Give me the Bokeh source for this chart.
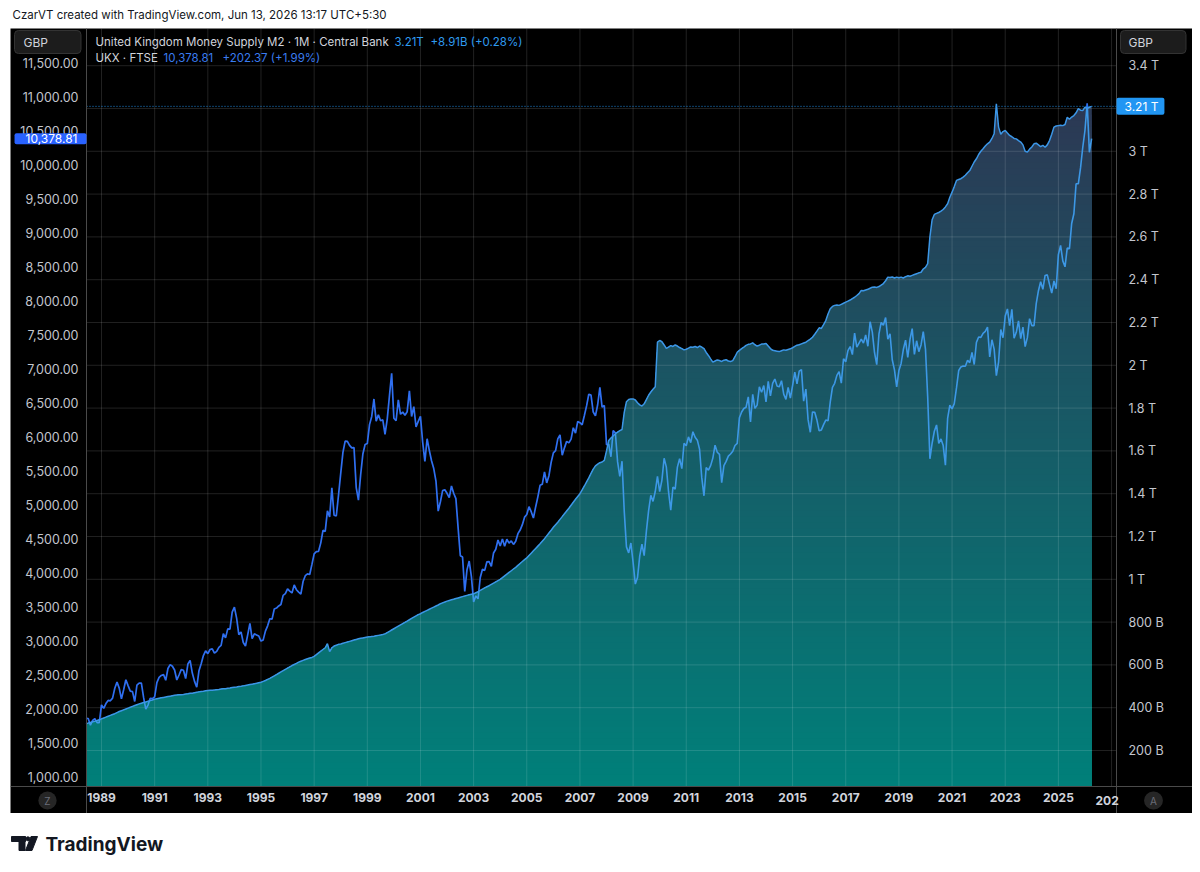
import numpy as np
import pandas as pd
from bokeh.plotting import figure
from bokeh.models import Range1d, LinearAxis, FixedTicker, NumeralTickFormatter, Label
from bokeh.layouts import column
from bokeh.embed import file_html
from bokeh.resources import INLINE
from bokeh.core.properties import value

# ---------------- data (monthly, first month = Jun 1988) ----------------
FIRST_MONTH = "1988-06-01"

ftse_close = [
    1857, 1853, 1753, 1826, 1852, 1793, 1793,                                   # 1988 Jun-Dec
    2052, 2002, 2073, 2119, 2113, 2152, 2298, 2388, 2300, 2142, 2276, 2423,     # 1989
    2337, 2255, 2248, 2103, 2345, 2375, 2372, 2163, 1990, 2050, 2149, 2144,     # 1990
    2170, 2380, 2457, 2486, 2500, 2415, 2588, 2645, 2622, 2566, 2420, 2493,     # 1991
    2571, 2562, 2440, 2654, 2708, 2521, 2399, 2313, 2554, 2658, 2778, 2847,     # 1992
    2807, 2868, 2878, 2814, 2840, 2900, 2927, 3100, 3038, 3171, 3166, 3418,     # 1993
    3491, 3328, 3086, 3126, 2971, 2919, 3082, 3251, 3027, 3098, 3082, 3066,     # 1994
    2991, 3009, 3138, 3216, 3320, 3315, 3464, 3477, 3508, 3529, 3664, 3689,     # 1995
    3760, 3727, 3699, 3818, 3747, 3711, 3681, 3867, 3953, 3980, 3971, 4119,     # 1996
    4275, 4308, 4312, 4436, 4621, 4604, 4907, 4818, 5244, 4842, 4831, 5136,     # 1997
    5458, 5767, 5932, 5928, 5870, 5833, 5837, 5249, 5064, 5438, 5743, 5883,     # 1998
    5896, 6175, 6295, 6552, 6226, 6318, 6231, 6246, 6030, 6256, 6597, 6930,     # 1999
    6269, 6232, 6540, 6327, 6359, 6313, 6365, 6673, 6294, 6438, 6142, 6222,     # 2000
    6297, 5918, 5634, 5967, 5797, 5643, 5529, 5345, 4903, 5040, 5204, 5217,     # 2001
    5165, 5101, 5272, 5165, 5086, 4656, 4246, 4227, 3722, 4039, 4169, 3940,     # 2002
    3567, 3656, 3613, 3926, 4048, 4031, 4157, 4161, 4091, 4287, 4342, 4477,     # 2003
    4390, 4492, 4386, 4489, 4431, 4464, 4413, 4459, 4571, 4624, 4703, 4814,     # 2004
    4852, 4968, 4894, 4801, 4964, 5113, 5282, 5297, 5478, 5317, 5423, 5619,     # 2005
    5760, 5792, 5965, 6023, 5724, 5833, 5928, 5906, 5961, 6129, 6049, 6221,     # 2006
    6203, 6172, 6308, 6450, 6621, 6608, 6360, 6303, 6467, 6722, 6433, 6457,     # 2007
    5880, 5884, 5702, 6087, 6054, 5626, 5412, 5637, 4902, 4377, 4288, 4434,     # 2008
    4150, 3830, 3926, 4244, 4418, 4249, 4608, 4909, 5134, 5045, 5191, 5413,     # 2009
    5189, 5355, 5680, 5553, 5188, 4917, 5258, 5225, 5549, 5675, 5528, 5900,     # 2010
    5863, 5994, 5909, 6070, 5990, 5946, 5815, 5395, 5128, 5544, 5505, 5572,     # 2011
    5682, 5872, 5768, 5738, 5321, 5571, 5635, 5711, 5742, 5783, 5867, 5898,     # 2012
    6277, 6361, 6412, 6430, 6583, 6215, 6621, 6413, 6462, 6731, 6651, 6749,     # 2013
    6510, 6810, 6598, 6780, 6845, 6744, 6730, 6820, 6623, 6546, 6723, 6566,     # 2014
    6749, 6947, 6773, 6961, 6985, 6521, 6696, 6248, 6062, 6361, 6356, 6242,     # 2015
    6084, 6097, 6175, 6242, 6231, 6504, 6724, 6782, 6899, 6954, 6784, 7143,     # 2016
    7099, 7263, 7323, 7204, 7520, 7313, 7372, 7431, 7373, 7493, 7327, 7688,     # 2017
    7534, 7232, 7057, 7509, 7678, 7637, 7749, 7432, 7510, 7128, 6980, 6728,     # 2018
    6969, 7075, 7279, 7418, 7162, 7426, 7587, 7207, 7408, 7248, 7347, 7542,     # 2019
    7286, 6581, 5672, 5901, 6077, 6170, 5898, 5964, 5866, 5577, 6266, 6461,     # 2020
    6407, 6483, 6714, 6970, 7023, 7037, 7032, 7120, 7086, 7238, 7059, 7385,     # 2021
    7464, 7458, 7516, 7545, 7608, 7169, 7423, 7284, 6894, 7095, 7573, 7452,     # 2022
    7772, 7876, 7632, 7871, 7446, 7532, 7699, 7439, 7608, 7322, 7454, 7733,     # 2023
    7631, 7630, 7953, 8144, 8275, 8164, 8368, 8377, 8237, 8110, 8287, 8173,     # 2024
    8674, 8810, 8583, 8495, 8772, 8761, 9133, 9275, 9716, 9716, 9950, 10250,    # 2025
    10500, 10900, 10180, 10378.81,                                              # 2026 Jan-Apr
]

m2_billion = [
    325, 328, 331, 334, 337, 340, 344,                                          # 1988 Jun-Dec
    348, 352, 356, 360, 364, 368, 372, 377, 382, 386, 390, 394,                 # 1989
    398, 402, 406, 410, 414, 418, 421, 424, 427, 430, 433, 436,                 # 1990
    440, 442, 444, 446, 448, 450, 452, 454, 456, 458, 459, 460,                 # 1991
    461, 462, 464, 465, 467, 468, 470, 472, 474, 476, 477, 479,                 # 1992
    480, 481, 482, 483, 484, 485, 487, 488, 489, 491, 492, 494,                 # 1993
    496, 497, 499, 500, 502, 504, 506, 508, 510, 512, 514, 517,                 # 1994
    519, 523, 527, 532, 537, 543, 549, 555, 561, 567, 573, 579,                 # 1995
    585, 591, 597, 602, 607, 613, 617, 621, 625, 629, 632, 635,                 # 1996
    640, 648, 656, 664, 672, 680, 699, 662, 680, 688, 692, 696,                 # 1997
    698, 701, 704, 707, 710, 713, 716, 719, 722, 724, 726, 728,                 # 1998
    730, 731, 733, 734, 736, 738, 740, 742, 745, 751, 757, 763,                 # 1999
    769, 775, 781, 787, 793, 799, 805, 811, 817, 823, 829, 835,                 # 2000
    839, 845, 850, 855, 860, 865, 870, 875, 880, 886, 890, 894,                 # 2001
    898, 901, 904, 907, 910, 913, 916, 919, 922, 925, 928, 930,                 # 2002
    932, 937, 942, 948, 954, 960, 965, 970, 976, 982, 988, 994,                 # 2003
    1000, 1008, 1016, 1024, 1032, 1040, 1048, 1056, 1065, 1074, 1083, 1092,     # 2004
    1100, 1111, 1122, 1133, 1144, 1155, 1166, 1178, 1190, 1203, 1216, 1229,     # 2005
    1243, 1255, 1267, 1280, 1293, 1306, 1319, 1332, 1346, 1360, 1374, 1387,     # 2006
    1400, 1418, 1436, 1455, 1474, 1495, 1515, 1530, 1538, 1545, 1548, 1556,     # 2007
    1600, 1649, 1660, 1670, 1680, 1688, 1695, 1700, 1780, 1830, 1840, 1843,     # 2008
    1843, 1838, 1825, 1815, 1810, 1820, 1840, 1860, 1875, 1888, 1900, 2108,     # 2009
    2116, 2110, 2095, 2079, 2085, 2092, 2088, 2095, 2090, 2083, 2078, 2072,     # 2010
    2075, 2080, 2086, 2084, 2088, 2083, 2090, 2085, 2078, 2060, 2046, 2030,     # 2011
    2015, 2020, 2025, 2022, 2018, 2024, 2026, 2020, 2018, 2022, 2040, 2061,     # 2012
    2070, 2078, 2085, 2093, 2098, 2100, 2105, 2096, 2090, 2094, 2099, 2100,     # 2013
    2102, 2090, 2078, 2070, 2068, 2066, 2064, 2068, 2072, 2070, 2074, 2077,     # 2014
    2082, 2088, 2094, 2096, 2100, 2104, 2108, 2115, 2122, 2131, 2145, 2160,     # 2015
    2175, 2172, 2190, 2209, 2240, 2264, 2275, 2280, 2282, 2280, 2285, 2290,     # 2016
    2295, 2300, 2305, 2312, 2318, 2326, 2335, 2350, 2348, 2352, 2355, 2360,     # 2017
    2365, 2366, 2364, 2368, 2375, 2382, 2395, 2412, 2410, 2413, 2408, 2412,     # 2018
    2409, 2412, 2408, 2414, 2418, 2416, 2420, 2424, 2428, 2432, 2435, 2450,     # 2019
    2458, 2475, 2600, 2680, 2705, 2710, 2714, 2720, 2728, 2740, 2755, 2785,     # 2020
    2809, 2835, 2864, 2868, 2872, 2879, 2888, 2900, 2910, 2930, 2950, 2965,     # 2021
    2985, 3000, 3012, 3025, 3035, 3043, 3060, 3082, 3222, 3113, 3080, 3092,     # 2022
    3097, 3085, 3074, 3068, 3060, 3058, 3050, 3043, 3030, 3000, 2996, 3010,     # 2023
    3020, 3035, 3038, 3030, 3022, 3028, 3019, 3030, 3050, 3080, 3113, 3118,     # 2024
    3120, 3122, 3120, 3125, 3159, 3150, 3160, 3167, 3180, 3199, 3192, 3190,     # 2025
    3206, 3200, 3206, 3210,                                                     # 2026 Jan-Apr
]

ftse_ticks = list(range(1000, 12000, 500))
m2_ticks = list(range(200, 3600, 200))
m2_tick_labels = {t: (f"{t} B" if t < 1000 else f"{t / 1000:g} T") for t in m2_ticks}
year_ticks = list(range(1989, 2028, 2))

header_text = "CzarVT created with TradingView.com, Jun 13, 2026 13:17 UTC+5:30"
m2_title, m2_last, m2_change = "United Kingdom Money Supply M2 \u00b7 1M \u00b7 Central Bank", "3.21T", "+8.91B (+0.28%)"
ftse_title, ftse_last, ftse_change = "UKX \u00b7 FTSE", "10,378.81", "+202.37 (+1.99%)"
m2_tag, ftse_tag = "3.21 T", "10,378.81"
currency = "GBP"

# ---------------- derived ----------------
dates = pd.date_range(FIRST_MONTH, periods=len(ftse_close), freq="MS")
xs = np.asarray(dates.year + (dates.month - 1) / 12.0, dtype=float)
m2 = np.asarray(m2_billion, dtype=float)
ftse = np.asarray(ftse_close, dtype=float)

FONT = "Inter"
W, H = 1182, 785
# full black panel ranges (frame = whole panel), plot pane inside it
X0, X1 = 1985.5763, 2030.046
M0, M1 = -94.4, 3573.8          # M2 (billions) – right scale
F0, F1 = 455.9, 12000.0         # FTSE – left scale
PX0, PX1 = 1988.4357, 2027.186  # pane left / right edges
PY0 = 31.8                      # pane bottom (M2 units)

p = figure(width=W, height=H, x_range=Range1d(X0, X1), y_range=Range1d(M0, M1),
           x_axis_type=None, y_axis_type=None, output_backend="svg", toolbar_location=None,
           min_border=0, background_fill_color="#000000", border_fill_color="#000000",
           outline_line_color=None, margin=(0, 0, 0, 10))
p.extra_y_ranges = {"ftse": Range1d(F0, F1)}

def style_axis(ax, color, size, standoff, bold=False):
    ax.major_tick_line_color = None
    ax.minor_tick_line_color = None
    ax.major_tick_out = 0
    ax.major_tick_in = 0
    ax.axis_line_color = "#4a4a4a"
    ax.major_label_text_color = color
    ax.major_label_text_font = FONT
    ax.major_label_text_font_size = size
    ax.major_label_standoff = standoff
    if bold:
        ax.major_label_text_font_style = "bold"

ra = LinearAxis(ticker=FixedTicker(ticks=m2_ticks), fixed_location=PX1)
ra.major_label_overrides = m2_tick_labels
style_axis(ra, "#c3c6ce", "12.5px", 12)
p.add_layout(ra, "right")

la = LinearAxis(y_range_name="ftse", ticker=FixedTicker(ticks=ftse_ticks),
                formatter=NumeralTickFormatter(format="0,0.00"), fixed_location=PX0)
style_axis(la, "#c3c6ce", "12.5px", 8)
p.add_layout(la, "left")

xa = LinearAxis(ticker=FixedTicker(ticks=year_ticks[:-1]), fixed_location=PY0)
style_axis(xa, "#d1d4dc", "12px", 7, bold=True)
p.add_layout(xa, "below")

# ---- M2 area: vertical gradient from nested opaque bands ----
px = (M1 - M0) / H
band_px = 6
edges = PY0 + np.arange(0, H + band_px, band_px) * px
c_top = np.array([44, 56, 84], dtype=float)
c_bot = np.array([0, 128, 122], dtype=float)
g_top, g_bot = 3223.0, PY0
bands = []
for lo, hi in zip(edges[:-1], edges[1:]):
    if lo >= m2.max():
        break
    t = np.clip(((lo + hi) / 2 - g_bot) / (g_top - g_bot), 0, 1)
    c = c_bot + (c_top - c_bot) * t
    bands.append((hi, "#%02x%02x%02x" % tuple(int(round(v)) for v in c)))
for hi, col in reversed(bands):
    p.varea(x=xs, y1=np.full_like(m2, PY0), y2=np.minimum(m2, hi),
            fill_color=col, fill_alpha=1.0)

# ---- grid (only inside the pane), drawn translucent over the area ----
p.segment(x0=year_ticks, x1=year_ticks, y0=[PY0] * len(year_ticks), y1=[M1] * len(year_ticks),
          line_color="#ffffff", line_alpha=0.13, line_width=1)
p.segment(x0=[PX0] * len(m2_ticks), x1=[PX1] * len(m2_ticks), y0=m2_ticks, y1=m2_ticks,
          line_color="#ffffff", line_alpha=0.13, line_width=1)

# ---- FTSE line, coloured differently where it runs through the area ----
fn = (ftse - F0) / (F1 - F0)
mn = (m2 - M0) / (M1 - M0)
d = fn - mn
runs = {True: ([], []), False: ([], [])}
cx, cy, cin = [xs[0]], [ftse[0]], bool(d[0] < 0)
for i in range(1, len(xs)):
    nin = bool(d[i] < 0)
    if nin != cin:
        t = d[i - 1] / (d[i - 1] - d[i])
        xc = xs[i - 1] + t * (xs[i] - xs[i - 1])
        yc = ftse[i - 1] + t * (ftse[i] - ftse[i - 1])
        cx.append(xc); cy.append(yc)
        runs[cin][0].append(cx); runs[cin][1].append(cy)
        cx, cy, cin = [xc], [yc], nin
    cx.append(xs[i]); cy.append(ftse[i])
runs[cin][0].append(cx); runs[cin][1].append(cy)
p.multi_line(xs=runs[False][0], ys=runs[False][1], y_range_name="ftse",
             line_color="#2f6ff0", line_width=1.7)
p.multi_line(xs=runs[True][0], ys=runs[True][1], y_range_name="ftse",
             line_color="#3d98e6", line_width=1.6)

p.line(xs, m2, line_color="#3c96e6", line_width=1.5)

# last-value dotted line across the pane
p.segment(x0=[PX0], x1=[PX1], y0=[m2[-1]], y1=[m2[-1]], line_color="#2196f3",
          line_width=1, line_dash="1 2", line_alpha=0.9)

def lab(x, y, text, color, size="11.5px", align="left", **kw):
    p.add_layout(Label(x=x, y=y, x_units=kw.pop("x_units", "screen"),
                       y_units=kw.pop("y_units", "screen"),
                       text=text, text_color=color, text_font=FONT, text_font_size=size,
                       text_align=align, text_baseline="middle", **kw))

# legend (screen units: from panel left / panel bottom)
lab(85, 772, m2_title, "#d1d4dc")
lab(384, 772, m2_last, "#2f9bf0")
lab(420, 772, m2_change, "#2f9bf0")
lab(85, 756, ftse_title, "#d1d4dc")
lab(153, 756, ftse_last, "#3a7cf0")
lab(212, 756, ftse_change, "#3a7cf0")

# currency boxes (anchor = outer edge of the box)
box = dict(background_fill_color="#1c1c1c", border_line_color="#333333", border_radius=4)
lab(4, 771.5, currency, "#d1d4dc", size="12px", padding=dict(left=9, right=33, top=4, bottom=4), **box)
lab(1110, 771.5, currency, "#d1d4dc", size="12px", padding=dict(left=8, right=33, top=4, bottom=4), **box)

# last value tags
lab(76, ftse[-1], ftse_tag, "#ffffff", size="12px", align="right", y_units="data", y_range_name="ftse",
    background_fill_color="#2962ff", border_radius=2, padding=dict(left=11, right=9, top=1, bottom=1))
lab(1106, m2[-1], m2_tag, "#ffffff", size="12px", y_units="data",
    background_fill_color="#2196f3", border_radius=2, padding=dict(left=8, right=6, top=1, bottom=1))

# clipped last year label and corner buttons
lab(year_ticks[-1], 13, str(year_ticks[-1])[:3], "#d1d4dc", size="12px", x_units="data",
    x_offset=-16, text_font_style="bold")
btn = dict(background_fill_color="#262626", border_radius=9, padding=dict(left=6, right=6, top=3, bottom=3))
lab(37, 13, "Z", "#6a6d78", size="10px", align="center", **btn)
lab(1143, 13, "A", "#6a6d78", size="10px", align="center", **btn)

# ---------------- header and footer ----------------
def strip(h):
    f = figure(width=W, height=h, x_range=Range1d(0, W), y_range=Range1d(h, 0),
               x_axis_type=None, y_axis_type=None, toolbar_location=None, output_backend="svg",
               min_border=0, outline_line_color=None, margin=(0, 0, 0, 10),
               background_fill_color="#ffffff", border_fill_color="#ffffff")
    f.grid.visible = False
    return f

hdr = strip(28)
hdr.text(x=[2], y=[14], text=[header_text], text_font=value(FONT), text_font_size="11.5px",
         text_color="#131722", text_baseline="middle", text_align="left")

ftr = strip(59)
ftr.quad(left=[1, 8.5], right=[15, 14.5], top=[23, 23], bottom=[28, 37], color="#131722")
ftr.scatter(x=[17.4], y=[25.3], size=4, marker="circle", color="#131722")
ftr.patch(x=[20.5, 27, 21.5, 15], y=[23, 23, 37, 37], color="#131722")
ftr.text(x=[35], y=[30.5], text=["TradingView"], text_font=value(FONT), text_font_size="19px",
         text_font_style="bold", text_color="#131722", text_baseline="middle", text_align="left")

layout = column(hdr, p, ftr)
open("out.html", "w").write(file_html(layout, INLINE))
